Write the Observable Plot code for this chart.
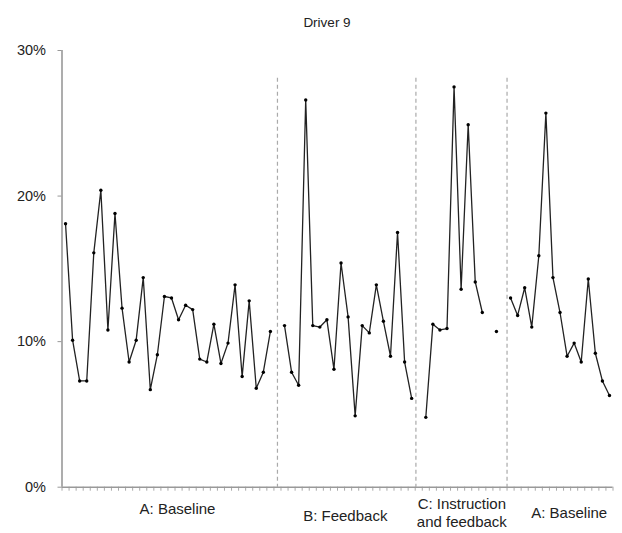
<!DOCTYPE html>
<html>
<head>
<meta charset="utf-8">
<script src="https://cdn.jsdelivr.net/npm/d3@7"></script>
<script src="https://cdn.jsdelivr.net/npm/@observablehq/plot@0.6"></script>
<style>
  html, body { margin: 0; padding: 0; background: #fff; }
</style>
</head>
<body>
<div id="chart"></div>
<script>
// ---- Data (percent values) ----
const phaseA1 = [18.1, 10.1, 7.3, 7.3, 16.1, 20.4, 10.8, 18.8, 12.3, 8.6, 10.1, 14.4, 6.7, 9.1, 13.1, 13.0, 11.5, 12.5, 12.2, 8.8, 8.6, 11.2, 8.5, 9.9, 13.9, 7.6, 12.8, 6.8, 7.9, 10.7];
const phaseB = [11.1, 7.9, 7.0, 26.6, 11.1, 11.0, 11.5, 8.1, 15.4, 11.7, 4.9, 11.1, 10.6, 13.9, 11.4, 9.0, 17.5, 8.6, 6.1];
const phaseC = [4.8, 11.2, 10.8, 10.9, 27.5, 13.6, 24.9, 14.1, 12.0, null, 10.7];
const phaseA2 = [13.0, 11.8, 13.7, 11.0, 15.9, 25.7, 14.4, 12.0, 9.0, 9.9, 8.6, 14.3, 9.2, 7.3, 6.3];
const phaseLabels = ["A: Baseline", "B: Feedback", "C: Instruction\nand feedback", "A: Baseline"];
const yTicks = [0, 10, 20, 30];
const title = "Driver 9";

// ---- Layout (positions in x-index / y-value units) ----
const separatorX = [30, 49.6, 62.5];
const labelX = [15.85, 39.6, 56.1, 71.3];
const labelY = [-1.46, -1.95, -1.7, -1.74];

// Build series: phases separated by one empty session
const values = [...phaseA1, null, ...phaseB, null, ...phaseC, null, ...phaseA2];
const series = values.map((v, i) => ({i, v: v == null ? NaN : v}));
const n = values.length;
const boundaries = d3.range(n + 1).map(k => k - 0.5);
const labels = phaseLabels.map((t, k) => ({t, x: labelX[k], y: labelY[k]}));

const chart = Plot.plot({
  width: 622,
  height: 533,
  marginLeft: 61.5,
  marginRight: 9.5,
  marginTop: 50,
  marginBottom: 46.3,
  x: {type: "linear", domain: [-0.5, n - 0.5], axis: null},
  y: {domain: [0, 30], axis: null},
  style: {fontFamily: "'Liberation Sans', Arial, Helvetica, sans-serif", background: "#fff", color: "#222", overflow: "visible"},
  marks: [
    Plot.ruleX(separatorX, {y1: 28.1, y2: 0, stroke: "#aaa", strokeWidth: 1.2, strokeDasharray: "4,3"}),
    Plot.axisY({ticks: yTicks, tickSize: 4, tickPadding: 12, tickFormat: d => d + "%", stroke: "#999", fill: "#222", fontSize: 14.5}),
    Plot.axisX({ticks: boundaries, tickSize: 4, tickFormat: () => "", stroke: "#aaa"}),
    Plot.ruleX([-0.5], {stroke: "#999", strokeWidth: 1.6}),
    Plot.ruleY([0], {stroke: "#999", strokeWidth: 1.6}),
    Plot.line(series, {x: "i", y: "v", stroke: "#222", strokeWidth: 1.3}),
    Plot.dot(series.filter(d => !isNaN(d.v)), {x: "i", y: "v", r: 1.7, fill: "#000"}),
    Plot.text(labels, {x: "x", y: "y", text: "t", fontSize: 15, lineHeight: 1.22, fill: "#222"}),
    Plot.text([title], {frameAnchor: "top-left", textAnchor: "middle", dx: 265, dy: -33, fontSize: 13.5, fill: "#222"})
  ]
});
document.getElementById("chart").appendChild(chart);
</script>
</body>
</html>
